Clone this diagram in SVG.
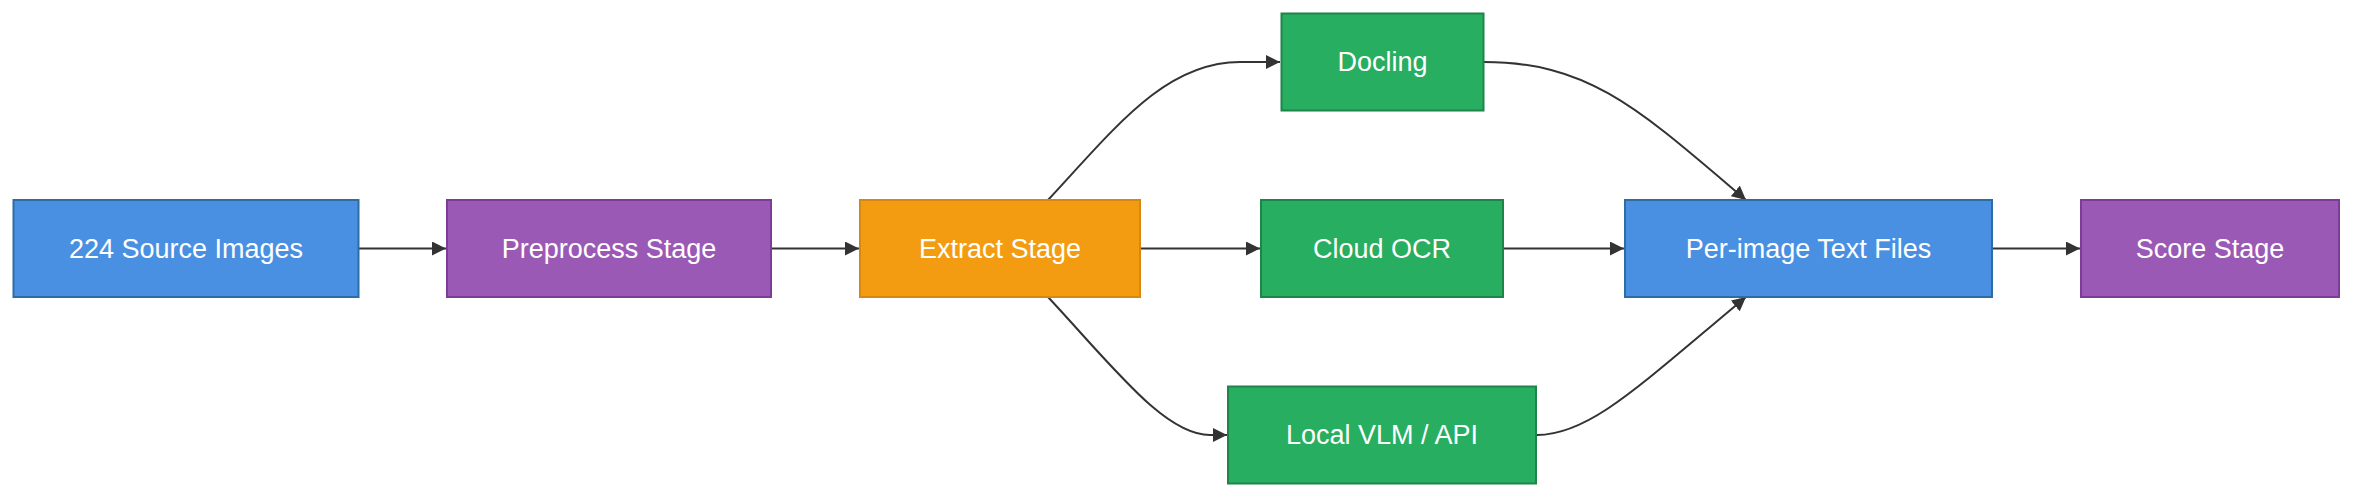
<svg xmlns="http://www.w3.org/2000/svg" width="2368" height="502" viewBox="0 0 2368 502">
<defs>
<marker id="arr" viewBox="0 0 10 10" refX="10" refY="5" markerWidth="14" markerHeight="14" markerUnits="userSpaceOnUse" orient="auto">
<path d="M0,0 L10,5 L0,10 z" fill="#333"/>
</marker>
<style>
.lbl{font-family:"Liberation Sans",Arial,sans-serif;font-size:27px;fill:#fff;text-anchor:middle;dominant-baseline:central}
.blue{fill:#4a90e2;stroke:#2e6da4;stroke-width:2}
.purple{fill:#9b59b6;stroke:#7d3c98;stroke-width:2}
.orange{fill:#f39c12;stroke:#d68910;stroke-width:2}
.green{fill:#27ae60;stroke:#1e8449;stroke-width:2}
.edge{fill:none;stroke:#333;stroke-width:2;marker-end:url(#arr)}
</style>
</defs>
<rect width="2368" height="502" fill="#fff"/>
<g id="connectors">
<path class="edge" d="M359,248.5 L446,248.5"/>
<path class="edge" d="M771,248.5 L859,248.5"/>
<path class="edge" d="M1140,248.5 L1260,248.5"/>
<path class="edge" d="M1503,248.5 L1624,248.5"/>
<path class="edge" d="M1992,248.5 L2080,248.5"/>
<path class="edge" d="M1048,200 C1115,128 1165,62 1240,62 L1280,62"/>
<path class="edge" d="M1048,297 C1115,369 1165,435 1210,435 L1227,435"/>
<path class="edge" d="M1484,62 C1590,62 1640,110 1746,200"/>
<path class="edge" d="M1537,435 C1590,435 1640,385 1746,297"/>
</g>
<g id="n-source"><rect class="blue" x="13.5" y="200" width="345" height="97"/><text class="lbl" x="186" y="248.5">224 Source Images</text></g>
<g id="n-preprocess"><rect class="purple" x="447" y="200" width="324" height="97"/><text class="lbl" x="609" y="248.5">Preprocess Stage</text></g>
<g id="n-extract"><rect class="orange" x="860" y="200" width="280" height="97"/><text class="lbl" x="1000" y="248.5">Extract Stage</text></g>
<g id="n-docling"><rect class="green" x="1281.5" y="13.5" width="202" height="97"/><text class="lbl" x="1382.5" y="62">Docling</text></g>
<g id="n-cloud"><rect class="green" x="1261" y="200" width="242" height="97"/><text class="lbl" x="1382" y="248.5">Cloud OCR</text></g>
<g id="n-local"><rect class="green" x="1228" y="386.5" width="308" height="97"/><text class="lbl" x="1382" y="435">Local VLM / API</text></g>
<g id="n-text"><rect class="blue" x="1625" y="200" width="367" height="97"/><text class="lbl" x="1808.5" y="248.5">Per-image Text Files</text></g>
<g id="n-score"><rect class="purple" x="2081" y="200" width="258" height="97"/><text class="lbl" x="2210" y="248.5">Score Stage</text></g>
</svg>
